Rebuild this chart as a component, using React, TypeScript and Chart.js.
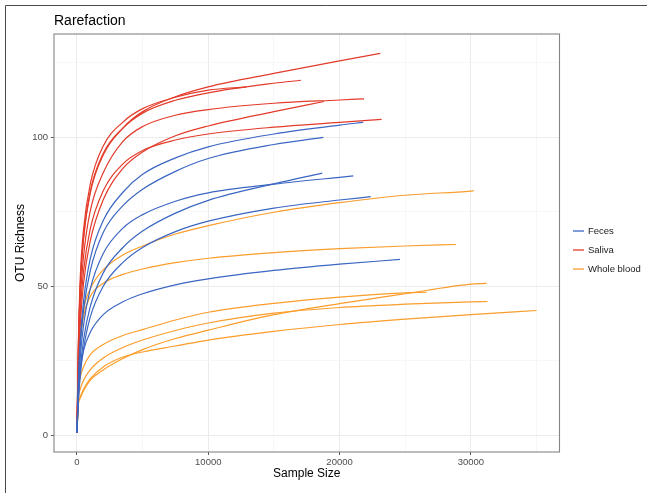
import React, { useEffect, useRef } from 'react';
import { Chart, registerables } from 'chart.js';

Chart.register(...registerables);

const FONT = '"Liberation Sans", Arial, Helvetica, sans-serif';

const sampleGrid = [0, 100, 250, 500, 1000, 2000, 3500, 5000, 7500, 10000, 15000, 20000, 25000, 30000];

const groups = ['Feces', 'Saliva', 'Whole blood'];
const groupColors = ['#3b66c2', '#e33b2a', '#fa9d2b'];

// Feces
const fecesDepths = [21800, 18760, 18680, 21050, 22370, 24600];
const fecesOTU = [
  [1, 17, 32, 45, 59, 72, 81.5, 87.5, 93, 96.7, 101, 104, 104.9],
  [1, 16, 30, 42, 55, 68, 77, 82.5, 88.5, 92.8, 97.5, 99.9],
  [1, 12, 22, 32, 43, 54.5, 63, 68.5, 74.5, 78.8, 84.3, 87.9],
  [1, 14, 26, 37, 49, 61, 69.5, 74, 78.5, 81.3, 84.2, 86.5, 86.95],
  [1, 11, 20, 29, 39.5, 50, 58, 63, 68.3, 71.8, 76.2, 78.9, 80],
  [1, 14, 22.5, 28.5, 34.5, 40.5, 44.8, 47.5, 50.5, 52.5, 55.3, 57.4, 59],
];

// Saliva
const salivaDepths = [23100, 17060, 12900, 21860, 18810, 23200];
const salivaOTU = [
  [1, 28, 50, 66, 81, 94, 103, 108.5, 113.5, 116.8, 121.3, 125.5, 128],
  [1, 28, 50, 66, 81.5, 94.5, 103, 108, 112.3, 114.8, 118, 119],
  [1, 30, 53, 69, 84, 97, 105, 109.5, 113.3, 115.7, 116.8],
  [1, 25, 45, 60, 75, 88, 98.5, 103.5, 107.3, 109.2, 111.3, 112.4, 112.8],
  [1, 20, 37, 51, 65, 79, 89.5, 95, 100.4, 103.7, 108.5, 111.9],
  [1, 23, 41, 55, 69, 82, 91, 95.5, 99, 101, 103.3, 104.9, 105.9],
];

// Whole blood
const bloodDepths = [30230, 28860, 31200, 26630, 31270, 35000];
const bloodOTU = [
  [1, 20, 32, 42, 49, 55.5, 60.5, 63.5, 67.5, 70.3, 74.8, 78, 80.5, 81.9, 82],
  [1, 20, 32, 40, 46.5, 51, 54, 55.8, 57.9, 59.4, 61.3, 62.6, 63.5, 64],
  [1, 10, 12.5, 15, 18.5, 22, 25.8, 28.8, 32.5, 35.3, 40.5, 44.2, 47.5, 50.7, 51],
  [1, 15, 19.5, 23, 27, 30.5, 33.5, 35.5, 38.7, 41.3, 44.3, 46.4, 47.8, 48],
  [1, 12, 15.5, 18.5, 22, 26, 29.5, 32, 35.2, 37.7, 41, 42.9, 44, 44.8, 44.9],
  [1, 10.5, 13, 15.5, 19, 23, 26.3, 28, 30, 32, 34.9, 37.2, 39, 40.5, 41.9],
];

const xTicks = [0, 5000, 10000, 15000, 20000, 25000, 30000, 35000];
const xLabels = [0, 10000, 20000, 30000];
const yTicks = [0, 25, 50, 75, 100, 125];
const yLabels = [0, 50, 100];

function curve(depth: number, otu: number[]) {
  const xs = sampleGrid.filter((s) => s < depth).concat([depth]);
  return xs.map((x, i) => ({ x, y: otu[i] }));
}

const decor = {
  id: 'decor',
  beforeDraw(chart: any) {
    const ctx = chart.ctx;
    ctx.save();
    ctx.fillStyle = '#ffffff';
    ctx.fillRect(0, 0, chart.width, chart.height);
    ctx.restore();
  },
  afterDraw(chart: any) {
    const ctx = chart.ctx;
    const a = chart.chartArea;
    ctx.save();
    // panel border
    ctx.strokeStyle = '#858585';
    ctx.lineWidth = 1.1;
    ctx.strokeRect(a.left, a.top, a.right - a.left, a.bottom - a.top);
    // outer frame
    ctx.strokeStyle = '#4a4a4a';
    ctx.lineWidth = 1;
    ctx.beginPath();
    ctx.moveTo(5.5, chart.height);
    ctx.lineTo(5.5, 5.5);
    ctx.lineTo(chart.width, 5.5);
    ctx.stroke();
    // title
    ctx.fillStyle = '#000';
    ctx.textBaseline = 'middle';
    ctx.textAlign = 'left';
    ctx.font = `14px ${FONT}`;
    ctx.fillText('Rarefaction', a.left, 21);
    // axis titles
    ctx.font = `12px ${FONT}`;
    ctx.textAlign = 'center';
    ctx.fillText('Sample Size', (a.left + a.right) / 2, 474);
    ctx.save();
    ctx.translate(21, (a.top + a.bottom) / 2);
    ctx.rotate(-Math.PI / 2);
    ctx.fillText('OTU Richness', 0, 0);
    ctx.restore();
    // legend
    const ys = [231, 250, 269];
    ctx.font = `9.5px ${FONT}`;
    ctx.textAlign = 'left';
    groups.forEach((g, i) => {
      ctx.strokeStyle = groupColors[i];
      ctx.lineWidth = 1.3;
      ctx.beginPath();
      ctx.moveTo(573, ys[i]);
      ctx.lineTo(584, ys[i]);
      ctx.stroke();
      ctx.fillStyle = '#1a1a1a';
      ctx.fillText(g, 588, ys[i] + 0.5);
    });
    ctx.restore();
  },
};

export default function App() {
  const ref = useRef<HTMLCanvasElement | null>(null);

  useEffect(() => {
    if (!ref.current) return;
    const datasets: any[] = [];
    const add = (depths: number[], otus: number[][], color: string) => {
      depths.forEach((d, i) => {
        datasets.push({
          data: curve(d, otus[i]),
          borderColor: color,
          backgroundColor: color,
          borderWidth: 1.2,
          pointRadius: 0,
          fill: false,
          cubicInterpolationMode: 'monotone',
        });
      });
    };
    add(fecesDepths, fecesOTU, groupColors[0]);
    add(salivaDepths, salivaOTU, groupColors[1]);
    add(bloodDepths, bloodOTU, groupColors[2]);

    const gridColor = (major: boolean) => (major ? '#ebebeb' : '#f5f5f5');

    const chart = new Chart(ref.current, {
      type: 'line',
      data: { datasets },
      plugins: [decor],
      options: {
        animation: false,
        responsive: false,
        devicePixelRatio: 1,
        parsing: false as any,
        layout: { padding: { left: 0, top: 34, right: 87.5, bottom: 0 } },
        plugins: { legend: { display: false }, title: { display: false }, tooltip: { enabled: false } },
        scales: {
          x: {
            type: 'linear',
            min: -1750,
            max: 36750,
            afterBuildTicks: (s: any) => {
              s.ticks = xTicks.map((v) => ({ value: v }));
            },
            afterFit: (s: any) => {
              s.height = 41;
            },
            border: { display: false },
            grid: {
              color: (c: any) => gridColor(xLabels.includes(c.tick?.value)),
              lineWidth: (c: any) => (xLabels.includes(c.tick?.value) ? 1 : 0.8),
              tickLength: 3,
              tickColor: (c: any) => (xLabels.includes(c.tick?.value) ? '#555' : 'rgba(0,0,0,0)'),
              tickWidth: 1,
            },
            ticks: {
              autoSkip: false,
              maxRotation: 0,
              padding: 2,
              color: '#4d4d4d',
              font: { size: 9.5, family: FONT },
              callback: (v: any) => (xLabels.includes(v) ? String(v) : ''),
            },
          },
          y: {
            type: 'linear',
            min: -5.5,
            max: 134.5,
            afterBuildTicks: (s: any) => {
              s.ticks = yTicks.map((v) => ({ value: v }));
            },
            afterFit: (s: any) => {
              s.width = 54;
            },
            border: { display: false },
            grid: {
              color: (c: any) => gridColor(yLabels.includes(c.tick?.value)),
              lineWidth: (c: any) => (yLabels.includes(c.tick?.value) ? 1 : 0.8),
              tickLength: 3,
              tickColor: (c: any) => (yLabels.includes(c.tick?.value) ? '#555' : 'rgba(0,0,0,0)'),
              tickWidth: 1,
            },
            ticks: {
              autoSkip: false,
              padding: 3,
              color: '#4d4d4d',
              font: { size: 9.5, family: FONT },
              callback: (v: any) => (yLabels.includes(v) ? String(v) : ''),
            },
          },
        },
      } as any,
    });
    return () => chart.destroy();
  }, []);

  return (
    <div style={{ position: 'fixed', left: 0, top: 0, width: 647, height: 493, background: '#fff' }}>
      <canvas ref={ref} width={647} height={493} style={{ display: 'block', width: 647, height: 493 }} />
    </div>
  );
}
